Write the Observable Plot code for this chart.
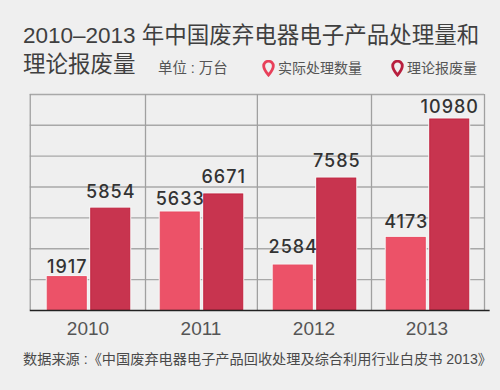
<!DOCTYPE html>
<html><head><meta charset="utf-8">
<script src="https://cdn.jsdelivr.net/npm/d3@7"></script>
<script src="https://cdn.jsdelivr.net/npm/@observablehq/plot@0.6"></script>
<style>
html,body{margin:0;padding:0;background:#efefef;width:500px;height:390px;overflow:hidden}
body{font-family:"Liberation Sans","Noto Sans CJK SC",sans-serif;color:#3f3f3f;position:relative}
#head{height:88px;position:relative}
#t1,#t2,.lg,#unit{position:absolute;white-space:nowrap}
#t1{left:23px;top:21px;font-size:22.5px;line-height:29px}
#t2{left:23px;top:50px;font-size:22.5px;line-height:29px}
#unit{left:158px;top:58px;font-size:14.4px;line-height:20px;color:#555}
.lg{top:58px;font-size:14px;line-height:20px;color:#555;display:flex;align-items:center;gap:3px}
#cap{position:absolute;left:23px;top:349px;font-size:14.2px;line-height:20px;color:#4a4a4a;white-space:nowrap}
svg{display:block}
.val text{letter-spacing:1px}
</style></head><body>
<div id="head">
<div id="t1">2010–2013 年中国废弃电器电子产品处理量和</div>
<div id="t2">理论报废量</div>
<div id="unit">单位 : 万台</div>
<div class="lg" style="left:262px"><svg width="13" height="17" viewBox="0 0 13 17"><path d="M6.5 1.200A4.800 4.800 0 0 0 1.700 6C1.700 9.500 6.500 15 6.500 15S11.300 9.500 11.300 6A4.800 4.800 0 0 0 6.500 1.200Z" fill="none" stroke="#e8405a" stroke-width="2.800"/></svg><span>实际处理数量</span></div>
<div class="lg" style="left:391px"><svg width="13" height="17" viewBox="0 0 13 17"><path d="M6.500 1.200A4.800 4.800 0 0 0 1.700 6C1.700 9.500 6.500 15 6.500 15S11.300 9.500 11.300 6A4.800 4.800 0 0 0 6.500 1.200Z" fill="none" stroke="#b81f3e" stroke-width="2.800"/></svg><span>理论报废量</span></div>
</div>
<div id="chart"></div>
<div id="cap">数据来源 :《中国废弃电器电子产品回收处理及综合利用行业白皮书 2013》</div>
<script>
const years = [2010, 2011, 2012, 2013];
const actual = [1917, 5633, 2584, 4173];
const theoretical = [5854, 6671, 7585, 10980];
const gridY = [1775, 3550, 5325, 7100, 8875, 10650, 12417];
const gridX = [2009.48, 2010.5, 2011.49, 2012.5, 2013.5];
const actualLabelGap = [10, 13, 18, 16];
const theoreticalLabelGap = [16, 17, 17, 12];
const bg = "#efefef";
const pinkRows = years.map((y, i) => ({x1: y - 0.365, x2: y - 0.02, v: actual[i], gap: actualLabelGap[i]}));
const redRows = years.map((y, i) => ({x1: y + 0.02, x2: y + 0.365, v: theoretical[i], gap: theoreticalLabelGap[i]}));
const barMarks = (rows, fill, edge) => [
  Plot.rectY(rows, {x1: "x1", x2: "x2", y1: 0, y2: "v", fill: bg, stroke: "#f6f6f6", strokeWidth: 3}),
  Plot.rectY(rows, {x1: "x1", x2: "x2", y1: 0, y2: "v", fill, stroke: edge, strokeWidth: 1})
];
const labelMarks = (rows) => rows.map(r => Plot.text([r], {
  x: d => (d.x1 + d.x2) / 2, y: "v", text: d => String(d.v), dy: -r.gap,
  className: "val", fontFamily: "Inter, sans-serif", fontSize: 18, fontWeight: 500, fill: "#333"
}));
const chart = Plot.plot({
  width: 500, height: 258, marginLeft: 0, marginRight: 0, marginTop: 0, marginBottom: 0,
  style: {background: "transparent", overflow: "visible"},
  x: {type: "linear", domain: [2009.5, 2013.5], range: [32, 484], axis: null},
  y: {domain: [0, 12417], range: [222, 6], axis: null},
  marks: [
    Plot.ruleY(gridY, {x1: 2009.48, x2: 2013.5, stroke: "#a8a8a8", strokeWidth: 1.300}),
    Plot.ruleX(gridX, {y1: 0, y2: 12417, stroke: "#a0a0a0", strokeWidth: 1.300}),
    ...barMarks(pinkRows, "#ec5268", "#e94a60"),
    ...barMarks(redRows, "#c8344f", "#c2233f"),
    Plot.ruleY([0], {x1: 2009.48, x2: 2013.55, stroke: "#222", strokeWidth: 1.600}),
    ...labelMarks(pinkRows),
    ...labelMarks(redRows),
    Plot.text(years, {x: d => d, y: 0, text: d => String(d), dy: 18, dx: -1, fontSize: 19, fontFamily: "Liberation Sans", fill: "#555"})
  ]
});
document.getElementById("chart").append(chart);
</script>
</body></html>
